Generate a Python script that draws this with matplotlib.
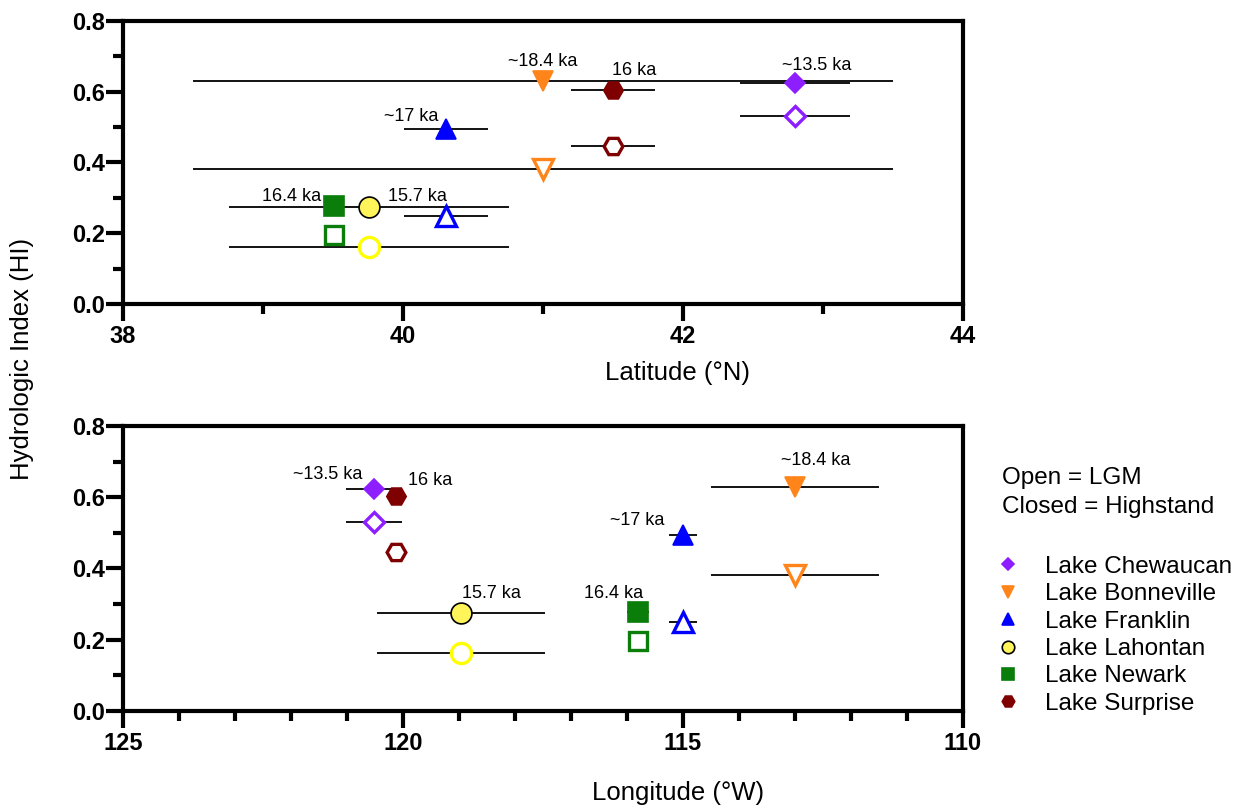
import matplotlib
matplotlib.use('Agg')
import matplotlib.pyplot as plt
from matplotlib.lines import Line2D
from matplotlib.ticker import MultipleLocator

plt.rcParams['font.family'] = ['Liberation Sans', 'DejaVu Sans']

# данные по озёрам
lakes = ['Lake Chewaucan', 'Lake Bonneville', 'Lake Franklin',
         'Lake Lahontan', 'Lake Newark', 'Lake Surprise']
ages = ['~13.5 ka', '~18.4 ka', '~17 ka', '15.7 ka', '16.4 ka', '16 ka']
lat = [42.8, 41.0, 40.31, 39.76, 39.51, 41.5]
lon = [120.52, 113.0, 115.0, 118.97, 115.8, 120.12]
hi_high = [0.623, 0.630, 0.494, 0.275, 0.277, 0.604]
hi_lgm = [0.531, 0.380, 0.248, 0.161, 0.195, 0.447]
lat_err_high = [0.39, 2.5, 0.3, 1.0, 0.0, 0.3]
lat_err_lgm = [0.39, 2.5, 0.3, 1.0, 0.0, 0.3]
lon_err_high = [0.5, 1.5, 0.25, 1.5, 0.2, 0.0]
lon_err_lgm = [0.5, 1.5, 0.25, 1.5, 0.0, 0.0]

colors = ['#8C1EFF', '#FF8419', '#0000FF', '#FFF45A', '#0B7D0B', '#7F0000']
open_colors = ['#8C1EFF', '#FF8419', '#0000FF', '#FFFF00', '#0B7D0B', '#7F0000']
markers = ['D', 'v', '^', 'o', 's', 'H']
sizes = [10.5, 14.5, 14.5, 15, 14, 14]
legend_sizes = [6, 8, 8, 9, 8, 9]

# смещения подписей в пикселях
top_offsets = [(22, 18), (0, 19), (-35, 13), (48, 10), (-43, 9), (21, 20)]
bot_offsets = [(-46, 15), (21, 26), (-46, 14), (31, 19), (-25, 19), (34, 15)]


def draw_panel(ax, x, err_high, err_lgm, offsets):
    for i in range(len(lakes)):
        if err_high[i] > 0:
            ax.errorbar(x[i], hi_high[i], xerr=err_high[i], fmt='none', ecolor='black',
                        elinewidth=1.3, capsize=0, zorder=2)
        if err_lgm[i] > 0:
            ax.errorbar(x[i], hi_lgm[i], xerr=err_lgm[i], fmt='none', ecolor='black',
                        elinewidth=1.3, capsize=0, zorder=2)
    for i in range(len(lakes)):
        edge = 'black' if markers[i] == 'o' else colors[i]
        ax.plot(x[i], hi_high[i], marker=markers[i], ms=sizes[i], mfc=colors[i],
                mec=edge, mew=1.2, ls='none', zorder=3)
        ax.plot(x[i], hi_lgm[i], marker=markers[i], ms=sizes[i] - 0.5, mfc='white',
                mec=open_colors[i], mew=2.4, ls='none', zorder=3)
        ax.annotate(ages[i], (x[i], hi_high[i]), xytext=offsets[i], textcoords='offset pixels',
                    ha='center', va='center', fontsize=13, zorder=4)

    ax.set_ylim(0, 0.8)
    ax.yaxis.set_major_locator(MultipleLocator(0.2))
    ax.yaxis.set_minor_locator(MultipleLocator(0.1))
    for s in ax.spines.values():
        s.set_linewidth(3)
    ax.tick_params(which='major', length=12, width=3, labelsize=17)
    ax.tick_params(which='minor', length=7, width=3)
    ax.tick_params(axis='y', pad=1)
    ax.tick_params(axis='x', pad=3)
    ax.yaxis.set_major_formatter(plt.FuncFormatter(lambda v, p: '%.1f' % v))
    for lbl in ax.get_xticklabels() + ax.get_yticklabels():
        lbl.set_fontweight('bold')


fig = plt.figure(figsize=(12.49, 8.09), dpi=100)
ax1 = fig.add_axes([0.0985, 0.6242, 0.6725, 0.3502])
ax2 = fig.add_axes([0.0985, 0.1215, 0.6725, 0.3519])

draw_panel(ax1, lat, lat_err_high, lat_err_lgm, top_offsets)
ax1.set_xlim(38, 44)
ax1.xaxis.set_major_locator(MultipleLocator(2))
ax1.xaxis.set_minor_locator(MultipleLocator(1))
for lbl in ax1.get_xticklabels():
    lbl.set_fontweight('bold')

draw_panel(ax2, lon, lon_err_high, lon_err_lgm, bot_offsets)
ax2.set_xlim(125, 110)
ax2.xaxis.set_major_locator(MultipleLocator(5))
ax2.xaxis.set_minor_locator(MultipleLocator(1))
for lbl in ax2.get_xticklabels():
    lbl.set_fontweight('bold')

fig.text(0.5425, 0.5303, 'Latitude (°N)', ha='center', va='baseline', fontsize=18.5)
fig.text(0.5425, 0.0111, 'Longitude (°W)', ha='center', va='baseline', fontsize=18.5)
fig.text(0.018, 0.556, 'Hydrologic Index (HI)', rotation=90, ha='center', va='center',
         fontsize=18.5)

fig.text(0.802, 1 - 478 / 809, 'Open = LGM', ha='left', va='center', fontsize=17.5)
fig.text(0.802, 1 - 507 / 809, 'Closed = Highstand', ha='left', va='center', fontsize=17.5)

handles = []
for i in range(len(lakes)):
    edge = 'black' if markers[i] == 'o' else colors[i]
    handles.append(Line2D([], [], marker=markers[i], ms=legend_sizes[i], mfc=colors[i],
                          mec=edge, mew=1.2, ls='none'))
fig.legend(handles, lakes, loc='upper left', bbox_to_anchor=(0.7974, 0.3128),
           frameon=False, fontsize=17.5, handlelength=1.0, handletextpad=1.0,
           labelspacing=0.22, borderpad=0, borderaxespad=0)

fig.savefig('out.png', dpi=100)
